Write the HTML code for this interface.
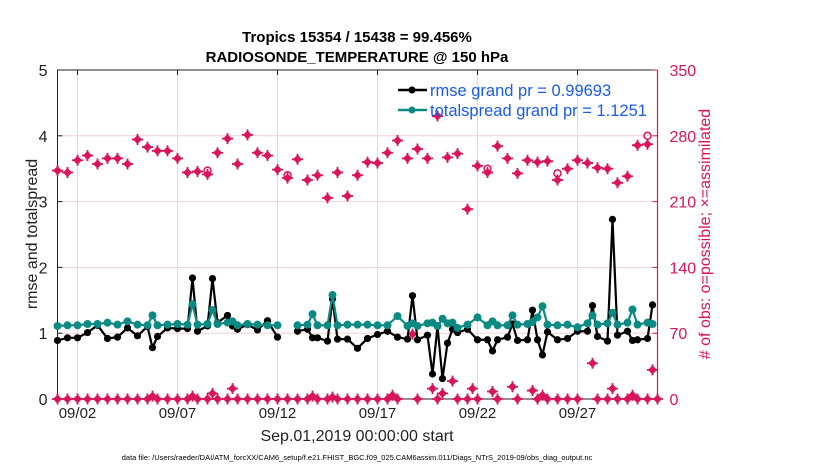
<!DOCTYPE html>
<html><head><meta charset="utf-8"><style>
html,body{margin:0;padding:0;background:#fff}
svg{display:block;font-family:"Liberation Sans",Arial,sans-serif}
</style></head><body>
<svg id="chart" width="830" height="470" viewBox="0 0 830 470"></svg>
<script>
// ---- data ----
const xTickLabels = ["09/02","09/07","09/12","09/17","09/22","09/27"];
const xTickDays = [1,6,11,16,21,26];
const yTicksLeft = [0,1,2,3,4,5];
const yTicksRight = [0,70,140,210,280,350];
const rmseDays = [0,0.5,1,1.5,2,2.5,3,3.5,4,4.5,4.75,5,5.5,6,6.5,6.75,7,7.5,7.75,8,8.5,8.75,9,9.5,10,10.5,11,12,12.5,12.75,13,13.5,13.75,14,14.5,15,15.5,16,16.5,17,17.5,17.75,18,18.5,18.75,19,19.25,19.5,19.75,20,20.5,21,21.5,21.75,22,22.5,22.75,23,23.5,23.75,24,24.25,24.5,25,25.5,26,26.5,26.75,27,27.5,27.75,28,28.5,28.75,29,29.5,29.75];
const rmseVals = [0.89,0.93,0.93,1.01,1.12,0.92,0.94,1.08,0.96,1.10,0.78,0.95,1.08,1.07,1.07,1.84,1.03,1.11,1.83,1.16,1.27,1.11,1.06,1.13,1.05,1.19,0.94,1.03,1.06,0.93,0.93,0.88,1.52,0.91,0.91,0.77,0.92,0.98,1.03,0.94,0.91,1.57,0.90,0.97,0.38,1.10,0.31,0.85,1.06,1.01,1.06,0.90,0.90,0.73,0.90,0.94,1.14,0.89,0.90,1.35,0.90,0.67,1.02,0.90,0.92,1.03,1.03,1.42,0.95,0.88,2.73,0.97,1.03,0.89,0.90,0.92,1.43];
const spreadVals = [1.11,1.12,1.12,1.14,1.14,1.16,1.13,1.18,1.13,1.12,1.27,1.12,1.13,1.14,1.13,1.44,1.13,1.14,1.35,1.14,1.16,1.18,1.12,1.14,1.13,1.12,1.12,1.12,1.13,1.29,1.12,1.12,1.58,1.12,1.13,1.13,1.13,1.12,1.12,1.26,1.11,1.15,1.11,1.15,1.16,1.11,1.22,1.15,1.16,1.08,1.13,1.24,1.12,1.18,1.12,1.12,1.27,1.13,1.14,1.17,1.24,1.41,1.13,1.12,1.13,1.09,1.15,1.27,1.13,1.15,1.31,1.13,1.16,1.36,1.13,1.16,1.14];
const obsDays = [0,0.5,1,1.5,2,2.5,3,3.5,4,4.5,5,5.5,6,6.5,7,7.5,8,8.5,9,9.5,10,10.5,11,11.5,12,12.5,13,13.5,14,14.5,15,15.5,16,16.5,17,17.5,18,18.5,19,19.5,20,20.5,21,21.5,22,22.5,23,23.5,24,24.5,25,25.5,26,26.5,27,27.5,28,28.5,29,29.5];
const obsAssim = [243,241,254,259,250,256,256,250,276,268,264,264,256,241,242,239,262,277,250,281,262,259,244,235,255,233,238,214,241,216,238,252,251,262,275,256,266,256,301,257,261,202,248,241,269,256,240,254,252,253,233,245,254,251,246,245,230,237,270,271];
const obsPossible = [243,241,254,259,250,256,256,250,276,268,264,264,256,241,242,243,262,277,250,281,262,259,244,238,255,233,238,214,241,216,238,252,251,262,275,256,266,256,301,257,261,202,248,245,269,256,240,254,252,253,240,245,254,251,246,245,230,237,270,280];
const lowDays = [0,0.5,1,1.5,2,2.5,3,3.5,4,4.5,4.75,5,5.5,6,6.5,6.75,7,7.5,7.75,8,8.5,8.75,9,9.5,10,10.5,11,11.5,12,12.5,12.75,13,13.5,13.75,14,14.5,15,15.5,16,16.5,16.75,17,17.75,18,18.75,19,19.25,19.75,20,20.5,20.75,21,21.75,22,22.75,23,23.75,24,24.25,24.5,25,25.5,26,26.75,27,27.5,27.75,28,28.5,28.75,29,29.5,29.75,30];
const lowVals = [0,0,0,0,0,0,0,0,0,0,3,0,0,0,0,3,0,0,6,0,0,11,0,0,0,0,0,0,0,0,3,0,0,2,0,0,0,0,0,0,4,0,69,0,11,0,6,19,0,0,11,0,8,0,13,0,9,0,4,0,0,0,0,38,0,0,11,0,0,4,0,0,31,0];

// ---- axes ----
const L=57.5, R=657.5, T=70, B=399;
const xs = d => L + d*(R-L)/30;
const yl = v => B - v*(B-T)/5;
const yr = v => B - v*(B-T)/350;
const NS="http://www.w3.org/2000/svg";
const svg=document.getElementById('chart');
function mk(tag,attrs,parent){const e=document.createElementNS(NS,tag);for(const k in attrs)e.setAttribute(k,attrs[k]);(parent||svg).appendChild(e);return e;}
const MAG="#d8145a", TEAL="#0a8a82";

xTickDays.forEach(d=>{
  const g=mk('line',{x1:xs(d),x2:xs(d),y1:T,y2:B,stroke:'#dcdcdc','stroke-width':1});
  
  
});
yTicksLeft.slice(1,5).forEach(v=>{
  const g=mk('line',{x1:L,x2:R,y1:yl(v),y2:yl(v),stroke:'#f0d0dc','stroke-width':1});
  
  
});

const fr=mk('path',{d:`M${L},${B}V${T}H${R}M${L},${B}H${R}`,stroke:'#222',fill:'none','stroke-width':1});


const ra=mk('line',{x1:R,x2:R,y1:T,y2:B,stroke:MAG,'stroke-width':1.2});



yTicksLeft.forEach(v=>{
  mk('line',{x1:L,x2:L+5,y1:yl(v),y2:yl(v),stroke:'#222'});
  const t=mk('text',{x:L-10,y:yl(v)+6,'text-anchor':'end','font-size':16,fill:'#222'});
  t.textContent=v;
  
  
});
yTicksRight.forEach(v=>{
  mk('line',{x1:R-5,x2:R,y1:yr(v),y2:yr(v),stroke:MAG});
  const t=mk('text',{x:R+12,y:yr(v)+6,'font-size':16,fill:MAG});
  t.textContent=v;
  
  
});
xTickDays.forEach((d,i)=>{
  mk('line',{x1:xs(d),x2:xs(d),y1:B,y2:B-5,stroke:'#222'});
  mk('line',{x1:xs(d),x2:xs(d),y1:T,y2:T+5,stroke:'#222'});
  const t=mk('text',{x:xs(d),y:B+19,'text-anchor':'middle','font-size':15,fill:'#222'});
  t.textContent=xTickLabels[i];
  
  
});

function star(x,y,name){
  const g=mk('g',{});
  
  
  mk('polygon',{points:`${x},${y-4.5} ${x+4.5},${y} ${x},${y+4.5} ${x-4.5},${y}`,fill:MAG},g);
  mk('path',{d:`M${x-5.5},${y}H${x+5.5}M${x},${y-5.5}V${y+5.5}`,stroke:MAG,'stroke-width':1.8},g);
}
obsDays.forEach((d,i)=>{
  if(obsPossible[i]!==obsAssim[i]){
    const c=mk('circle',{cx:xs(d),cy:yr(obsPossible[i]),r:3.5,fill:'none',stroke:MAG,'stroke-width':1.5});
    
    
  }
  star(xs(d),yr(obsAssim[i]),'assimilated-obs-marker');
});
lowDays.forEach((d,i)=>star(xs(d),yr(lowVals[i]),'low-obs-marker'));

function series(vals,color,r,name){
  let path='';
  rmseDays.forEach((d,i)=>{
    const gap=i>0 && (d-rmseDays[i-1])>0.6;
    path+=(i===0||gap?'M':'L')+xs(d)+','+yl(vals[i]);
  });
  const p=mk('path',{d:path,stroke:color,'stroke-width':2.2,fill:'none'});
  
  
  rmseDays.forEach((d,i)=>{
    const c=mk('circle',{cx:xs(d),cy:yl(vals[i]),r:r,fill:color});
    
    
  });
}
series(rmseVals,'#000',3.6,'rmse');
series(spreadVals,TEAL,4,'totalspread');

[['rmse grand pr = 0.99693','#000',90],['totalspread grand pr = 1.1251',TEAL,110]].forEach(([txt,col,y],i)=>{
  const g=mk('g',{});
  
  
  mk('line',{x1:398,x2:427,y1:y,y2:y,stroke:col,'stroke-width':2.5},g);
  mk('circle',{cx:412,cy:y,r:3.5,fill:col},g);
  const t=mk('text',{x:430,y:y+6,'font-size':16.5,fill:'#1a5ce8'},g);
  t.textContent=txt;
});

function txt(x,y,s,attrs,name){
  const t=mk('text',Object.assign({x:x,y:y},attrs));
  t.textContent=s;
  
  
  return t;
}
txt(357,42,'Tropics 15354 / 15438 = 99.456%',{'text-anchor':'middle','font-size':15,'font-weight':'bold',fill:'#000'},'chart-title');
txt(357,62,'RADIOSONDE_TEMPERATURE @ 150 hPa',{'text-anchor':'middle','font-size':15,'font-weight':'bold',fill:'#000'},'chart-subtitle');
txt(357,441,'Sep.01,2019 00:00:00 start',{'text-anchor':'middle','font-size':16,fill:'#222'},'x-axis-title');
txt(357,460,'data file: /Users/raeder/DAI/ATM_forcXX/CAM6_setup/f.e21.FHIST_BGC.f09_025.CAM6assim.011/Diags_NTrS_2019-09/obs_diag_output.nc',{'text-anchor':'middle','font-size':7.5,fill:'#000'},'data-file-note');
txt(0,0,'rmse and totalspread',{'text-anchor':'middle','font-size':16,fill:'#222',transform:'translate(37,234) rotate(-90)'},'left-y-axis-title');
txt(0,0,'# of obs: o=possible; \u00d7=assimilated',{'text-anchor':'middle','font-size':16,fill:MAG,transform:'translate(710,234) rotate(-90)'},'right-y-axis-title');
</script>
</body></html>
